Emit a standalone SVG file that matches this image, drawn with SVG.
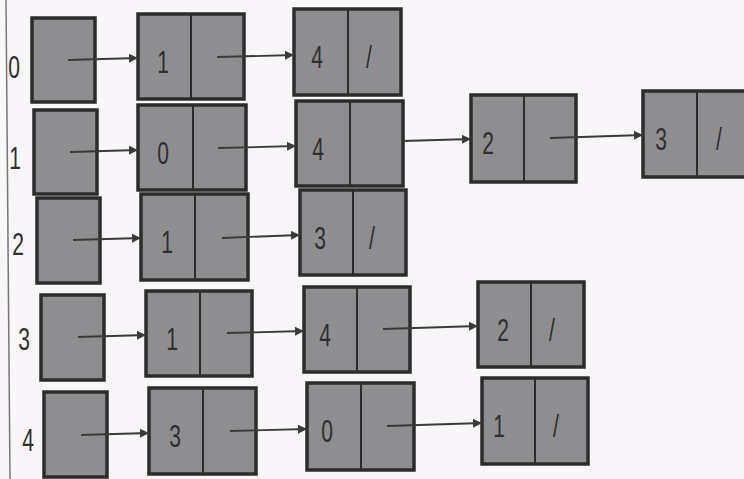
<svg xmlns="http://www.w3.org/2000/svg" width="744" height="479" viewBox="0 0 744 479">
<defs>
<style>
.b{fill:#8e8d90;stroke:#2c2c2c;stroke-width:3.5}
.d{stroke:#2c2c2c;stroke-width:2}
.t{font-family:"Liberation Sans",Arial,sans-serif;font-size:31px;fill:#2f2f2f;text-anchor:middle}
.c{stroke:#3a3a3a;stroke-width:1.8;fill:none;marker-end:url(#ah)}
</style>
<marker id="ah" viewBox="0 0 10 10" refX="10" refY="5" markerWidth="5" markerHeight="5" orient="auto" markerUnits="strokeWidth">
<path d="M0,0 L10,5 L0,10 z" fill="#3a3a3a"/>
</marker>
</defs>
<rect width="744" height="479" fill="#f8f6f8"/>
<line x1="6" y1="0" x2="10" y2="479" stroke="#777" stroke-width="1.5"/>
<g id="labels">
<text class="t" transform="translate(14,78) scale(0.68,1)">0</text>
<text class="t" transform="translate(15,169) scale(0.68,1)">1</text>
<text class="t" transform="translate(18,255) scale(0.68,1)">2</text>
<text class="t" transform="translate(24,350) scale(0.68,1)">3</text>
<text class="t" transform="translate(28,451) scale(0.68,1)">4</text>
</g>
<g id="h0"><rect class="b" x="32" y="18" width="63" height="84"/></g>
<g id="h1"><rect class="b" x="34" y="110" width="63" height="84"/></g>
<g id="h2"><rect class="b" x="37" y="198" width="63" height="85"/></g>
<g id="h3"><rect class="b" x="41" y="295" width="63" height="85"/></g>
<g id="h4"><rect class="b" x="44" y="392" width="63" height="85"/></g>

<g id="n0a"><rect class="b" x="138" y="14" width="106" height="85"/><line class="d" x1="191" y1="14" x2="191" y2="99"/><text class="t" transform="translate(163,73) scale(0.68,1)">1</text></g>
<g id="n0b"><rect class="b" x="294" y="9" width="107" height="86"/><line class="d" x1="348" y1="9" x2="348" y2="95"/><text class="t" transform="translate(317,68) scale(0.68,1)">4</text><text class="t" transform="translate(369,68) scale(0.68,1)">/</text></g>

<g id="n1a"><rect class="b" x="138" y="105" width="108" height="85"/><line class="d" x1="193" y1="105" x2="193" y2="190"/><text class="t" transform="translate(163,164) scale(0.68,1)">0</text></g>
<g id="n1b"><rect class="b" x="296" y="101" width="107" height="85"/><line class="d" x1="350" y1="101" x2="350" y2="186"/><text class="t" transform="translate(318,160) scale(0.68,1)">4</text></g>
<g id="n1c"><rect class="b" x="471" y="95" width="105" height="87"/><line class="d" x1="524" y1="95" x2="524" y2="182"/><text class="t" transform="translate(488,154) scale(0.68,1)">2</text></g>
<g id="n1d"><rect class="b" x="643" y="91" width="104" height="86"/><line class="d" x1="697" y1="91" x2="697" y2="177"/><text class="t" transform="translate(661,150) scale(0.68,1)">3</text><text class="t" transform="translate(719,150) scale(0.68,1)">/</text></g>

<g id="n2a"><rect class="b" x="141" y="194" width="107" height="86"/><line class="d" x1="195" y1="194" x2="195" y2="280"/><text class="t" transform="translate(167,253) scale(0.68,1)">1</text></g>
<g id="n2b"><rect class="b" x="300" y="190" width="106" height="85"/><line class="d" x1="353" y1="190" x2="353" y2="275"/><text class="t" transform="translate(320,249) scale(0.68,1)">3</text><text class="t" transform="translate(372,249) scale(0.68,1)">/</text></g>

<g id="n3a"><rect class="b" x="146" y="291" width="106" height="85"/><line class="d" x1="200" y1="291" x2="200" y2="376"/><text class="t" transform="translate(172,350) scale(0.68,1)">1</text></g>
<g id="n3b"><rect class="b" x="304" y="287" width="106" height="85"/><line class="d" x1="357" y1="287" x2="357" y2="372"/><text class="t" transform="translate(325,346) scale(0.68,1)">4</text></g>
<g id="n3c"><rect class="b" x="478" y="282" width="106" height="85"/><line class="d" x1="531" y1="282" x2="531" y2="367"/><text class="t" transform="translate(503,341) scale(0.68,1)">2</text><text class="t" transform="translate(552,341) scale(0.68,1)">/</text></g>

<g id="n4a"><rect class="b" x="149" y="388" width="107" height="86"/><line class="d" x1="203" y1="388" x2="203" y2="474"/><text class="t" transform="translate(175,447) scale(0.68,1)">3</text></g>
<g id="n4b"><rect class="b" x="307" y="383" width="107" height="87"/><line class="d" x1="361" y1="383" x2="361" y2="470"/><text class="t" transform="translate(327,442) scale(0.68,1)">0</text></g>
<g id="n4c"><rect class="b" x="482" y="378" width="106" height="86"/><line class="d" x1="535" y1="378" x2="535" y2="464"/><text class="t" transform="translate(499,437) scale(0.68,1)">1</text><text class="t" transform="translate(556,437) scale(0.68,1)">/</text></g>

<g id="connectors">
<path class="c" d="M68,60 L138,58"/>
<path class="c" d="M217,57 L294,55"/>
<path class="c" d="M70,152 L138,150"/>
<path class="c" d="M218,148 L296,146"/>
<path class="c" d="M403,141 L471,139"/>
<path class="c" d="M550,138 L643,135"/>
<path class="c" d="M73,240 L141,238"/>
<path class="c" d="M222,238 L300,235"/>
<path class="c" d="M78,337 L146,335"/>
<path class="c" d="M227,333 L304,331"/>
<path class="c" d="M383,329 L478,326"/>
<path class="c" d="M81,435 L149,433"/>
<path class="c" d="M230,431 L307,429"/>
<path class="c" d="M387,426 L482,423"/>
</g>
</svg>
